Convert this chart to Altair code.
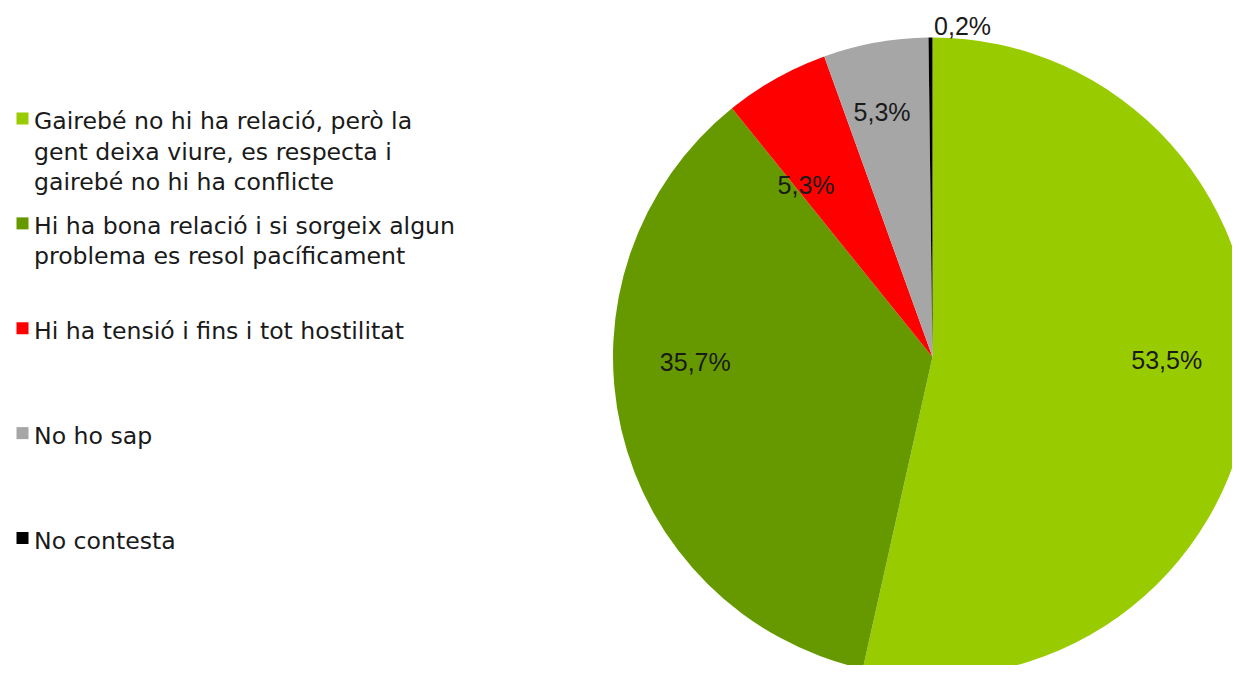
import altair as alt
import pandas as pd

# ---- data ----
categories = [
    "Gairebé no hi ha relació, però la gent deixa viure, es respecta i gairebé no hi ha conflicte",
    "Hi ha bona relació i si sorgeix algun problema es resol pacíficament",
    "Hi ha tensió i fins i tot hostilitat",
    "No ho sap",
    "No contesta",
]
legend_labels = [
    "Gairebé no hi ha relació, però la\ngent deixa viure, es respecta i\ngairebé no hi ha conflicte",
    "Hi ha bona relació i si sorgeix algun\nproblema es resol pacíficament",
    "Hi ha tensió i fins i tot hostilitat",
    "No ho sap",
    "No contesta",
]
values = [53.5, 35.7, 5.3, 5.3, 0.2]
value_labels = ["53,5%", "35,7%", "5,3%", "5,3%", "0,2%"]
colors = ["#99CC00", "#669900", "#FF0000", "#A6A6A6", "#000000"]

df = pd.DataFrame({
    "cat": categories,
    "legend": legend_labels,
    "value": values,
    "label": value_labels,
    "idx": list(range(len(categories))),
})

CX, CY, R = 924.5, 349, 319.5
color_scale = alt.Scale(domain=categories, range=colors)
base = alt.Chart(df)

pie = base.mark_arc(radius=R).encode(
    theta=alt.Theta("value:Q", stack=True),
    color=alt.Color("cat:N", scale=color_scale, legend=None),
    order=alt.Order("idx:Q", sort="ascending"),
    x=alt.value(CX),
    y=alt.value(CY),
)

# per-label placement (radius, dx, dy) mimicking the original label layout
label_place = [
    (237, -1.4, -22.3),
    (236, -7.4, -47.7),
    (213, -22.1, 14.2),
    (248, -6.3, 0.0),
    (332, 32.1, 2.0),
]
texts = []
for i, (r, dx, dy) in enumerate(label_place):
    t = base.transform_calculate(
        t=f"datum.idx == {i} ? datum.label : ''"
    ).mark_text(
        radius=r, dx=dx, dy=dy, font="Liberation Sans", fontSize=25,
        color="#1a1a1a", align="center", baseline="middle",
    ).encode(
        theta=alt.Theta("value:Q", stack=True),
        order=alt.Order("idx:Q", sort="ascending"),
        detail="cat:N",
        text="t:N",
        x=alt.value(CX),
        y=alt.value(CY),
    )
    texts.append(t)

leg_y = alt.Y(
    "cat:N",
    scale=alt.Scale(type="point", domain=categories, range=[110.5, 530], padding=0),
    axis=None,
)
squares = base.mark_square(size=144, opacity=1).encode(
    x=alt.value(14.5),
    y=leg_y,
    color=alt.Color("cat:N", scale=color_scale, legend=None),
)
legtext = base.mark_text(
    align="left", baseline="top", dy=-8.5, lineBreak="\n", lineHeight=30.5,
    font="DejaVu Sans", fontSize=23.6, color="#1a1a1a",
).encode(
    x=alt.value(26),
    y=leg_y,
    text="legend:N",
)

chart = alt.layer(pie, *texts, squares, legtext).properties(
    width=1224,
    height=657,
    padding=0,
    background="white",
    autosize=alt.AutoSizeParams(type="none"),
).configure_view(stroke=None, strokeWidth=0)

chart.save("out.html", embed_options={"renderer": "svg", "actions": False})
